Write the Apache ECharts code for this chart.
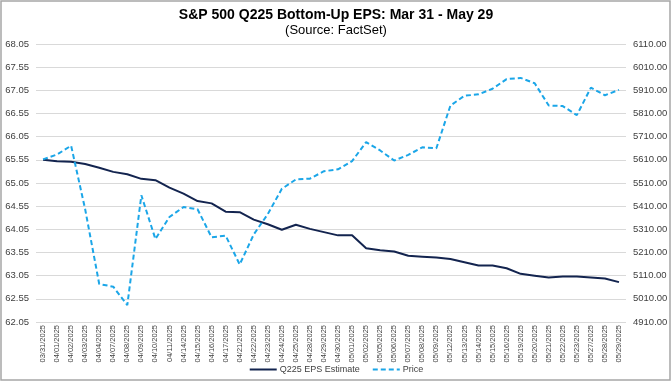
<!DOCTYPE html>
<html><head><meta charset="utf-8">
<script src="https://cdn.jsdelivr.net/npm/echarts@6/dist/echarts.min.js"></script>
<style>html,body{margin:0;padding:0;background:#fff}#c{width:672px;height:384px}</style>
</head><body><div id="c"></div>
<script>
const dates = ['03/31/2025','04/01/2025','04/02/2025','04/03/2025','04/04/2025','04/07/2025','04/08/2025','04/09/2025','04/10/2025','04/11/2025','04/14/2025','04/15/2025','04/16/2025','04/17/2025','04/21/2025','04/22/2025','04/23/2025','04/24/2025','04/25/2025','04/28/2025','04/29/2025','04/30/2025','05/01/2025','05/02/2025','05/05/2025','05/06/2025','05/07/2025','05/08/2025','05/09/2025','05/12/2025','05/13/2025','05/14/2025','05/15/2025','05/16/2025','05/19/2025','05/20/2025','05/21/2025','05/22/2025','05/23/2025','05/27/2025','05/28/2025','05/29/2025'];
const epsEstimate = [65.55,65.52,65.51,65.46,65.38,65.29,65.24,65.14,65.11,64.95,64.82,64.66,64.61,64.43,64.42,64.26,64.16,64.04,64.15,64.06,63.99,63.92,63.92,63.64,63.60,63.57,63.48,63.46,63.44,63.41,63.34,63.27,63.27,63.21,63.09,63.05,63.01,63.03,63.03,63.01,62.99,62.91];
const price = [5611.85,5633.07,5670.97,5396.52,5074.08,5062.25,4982.77,5456.90,5268.05,5363.36,5405.97,5396.63,5275.70,5282.70,5158.20,5287.76,5375.86,5484.77,5525.21,5528.75,5560.83,5569.06,5604.14,5686.67,5650.38,5606.91,5631.28,5663.94,5659.91,5844.19,5886.55,5892.58,5916.93,5958.38,5963.60,5940.46,5844.61,5842.01,5802.82,5921.54,5888.55,5912.17];
const leftAxis = {min: 62.05, max: 68.05, step: 0.5};
const rightAxis = {min: 4910, max: 6110, step: 100};

const FONT = 'Liberation Sans, Arial, sans-serif';
const chart = echarts.init(document.getElementById('c'), null, {renderer: 'canvas'});
chart.setOption({
  animation: false,
  backgroundColor: '#fff',
  textStyle: {fontFamily: FONT},
  title: {
    text: 'S&P 500 Q225 Bottom-Up EPS: Mar 31 - May 29',
    subtext: '(Source: FactSet)',
    left: 'center', top: 3, itemGap: 2,
    textStyle: {fontFamily: FONT, fontSize: 14, fontWeight: 'bold', color: '#000'},
    subtextStyle: {fontFamily: FONT, fontSize: 13, color: '#000'}
  },
  graphic: [{type: 'rect', shape: {x: 1, y: 1, width: 669, height: 379}, style: {fill: 'none', stroke: '#a6a6a6', lineWidth: 1.5}, silent: true}],
  legend: {
    bottom: 5, left: 'center', itemWidth: 27, itemHeight: 10, itemGap: 12,
    itemStyle: {opacity: 0},
    textStyle: {fontFamily: FONT, fontSize: 9, color: '#404040', padding: [0, 0, 0, -2]},
    data: ['Q225 EPS Estimate', 'Price']
  },
  grid: {left: 36, right: 46, top: 44, height: 278},
  xAxis: {
    type: 'category', data: dates, boundaryGap: true,
    axisLine: {show: false}, axisTick: {show: false},
    axisLabel: {rotate: 90, interval: 0, fontSize: 7.5, color: '#404040', margin: 3, fontFamily: FONT}
  },
  yAxis: [{
    type: 'value', min: leftAxis.min, max: leftAxis.max, interval: leftAxis.step,
    axisLine: {show: false}, axisTick: {show: false},
    splitLine: {lineStyle: {color: '#d9d9d9', width: 1}},
    axisLabel: {fontSize: 9.5, color: '#404040', margin: 7, fontFamily: FONT, formatter: v => v.toFixed(2)}
  }, {
    type: 'value', min: rightAxis.min, max: rightAxis.max, interval: rightAxis.step,
    axisLine: {show: false}, axisTick: {show: false}, splitLine: {show: false},
    axisLabel: {fontSize: 9.5, color: '#404040', margin: 7, fontFamily: FONT, formatter: v => v.toFixed(2)}
  }],
  series: [{
    name: 'Q225 EPS Estimate', type: 'line', yAxisIndex: 0, data: epsEstimate,
    symbol: 'none', lineStyle: {color: '#13244f', width: 2}, itemStyle: {color: '#13244f'}
  }, {
    name: 'Price', type: 'line', yAxisIndex: 1, data: price,
    symbol: 'none', lineStyle: {color: '#1ba6e8', width: 2, type: [5, 3]}, itemStyle: {color: '#1ba6e8'}
  }]
});
</script></body></html>
